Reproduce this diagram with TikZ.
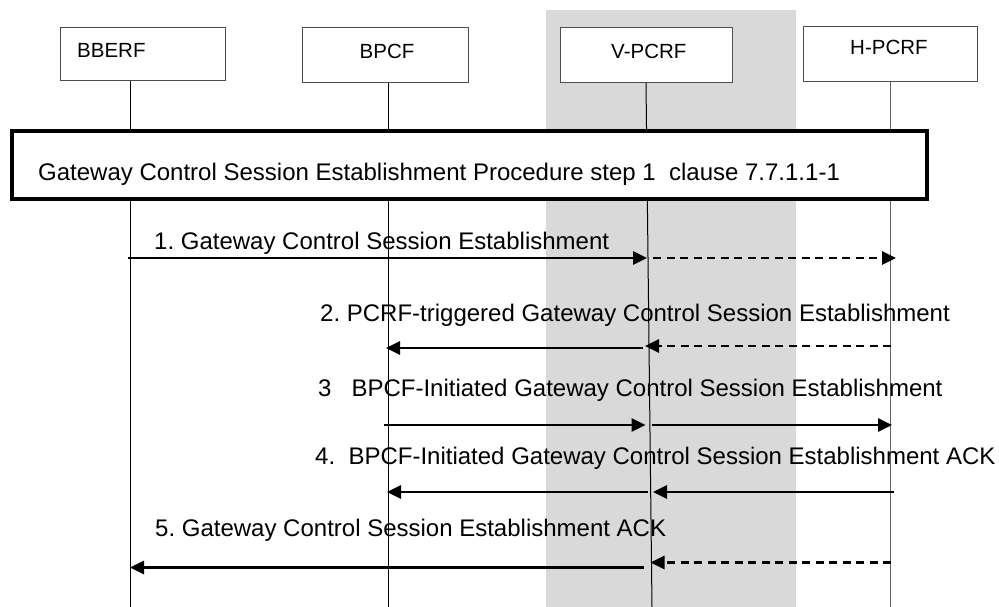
\documentclass[tikz,border=0pt]{standalone}
\usepackage{fontspec}
\setmainfont{Liberation Sans}
\usetikzlibrary{arrows.meta}
\frenchspacing
\begin{document}
\begin{tikzpicture}[x=1pt,y=-1pt,
  entity/.style={draw=black!70, line width=1pt, fill=white, inner sep=0pt},
  entlabel/.style={anchor=base west, inner sep=0pt, font=\fontsize{20.5}{24}\selectfont},
  msgtext/.style={anchor=base west, inner sep=0pt, font=\fontsize{24}{28}\selectfont},
  lifeline/.style={line width=1pt, draw=black},
  msg/.style={line width=2.8pt, -{Triangle[length=14pt,width=13pt]}},
  dmsg/.style={msg, dash pattern=on 8pt off 5.5pt},
  procbox/.style={draw=black, line width=4pt, fill=white, inner sep=0pt}]
\useasboundingbox (0,0) rectangle (999,607);
% visited network shading
\fill[black!15] (546,10) rectangle (796,607);

% lifeline end points
\coordinate (bbTop) at (130,81);   \coordinate (bbBot) at (130,607);
\coordinate (bpTop) at (388,83);   \coordinate (bpBot) at (388,607);
\coordinate (vpTop) at (646,83);   \coordinate (vpBot) at (652,607);
\coordinate (hpTop) at (890,82);   \coordinate (hpBot) at (890,607);
\draw[lifeline] (bbTop) -- (bbBot);
\draw[lifeline] (bpTop) -- (bpBot);
\draw[lifeline] (vpTop) -- (vpBot);
\draw[lifeline, draw=black!60] (hpTop) -- (hpBot);

% entity boxes
\node[entity, minimum width=165pt, minimum height=53pt] (bberf) at (142.5,54.5) {};
\node[entity, minimum width=166pt, minimum height=55pt] (bpcf) at (385,55.5) {};
\node[entity, minimum width=172pt, minimum height=55pt] (vpcrf) at (646,55.5) {};
\node[entity, minimum width=174pt, minimum height=55pt] (hpcrf) at (890,54.5) {};
\node[entlabel] (lbberf) at (77,58) {BBERF};
\node[entlabel] (lbpcf) at (359.5,59) {BPCF};
\node[entlabel] (lvpcrf) at (611,59) {V-PCRF};
\node[entlabel] (lhpcrf) at (850,55) {H-PCRF};

% procedure box
\node[procbox, minimum width=915pt, minimum height=68pt] (proc) at (469.5,165) {};
\node[msgtext] (proctext) at (38,180) {Gateway Control Session Establishment Procedure step 1\ \ clause 7.7.1.1-1};

% message 1
\coordinate (m1a) at (128,258); \coordinate (m1b) at (647,258);
\coordinate (m1c) at (653,258); \coordinate (m1d) at (896,258);
\node[msgtext] (t1) at (154,249) {1. Gateway Control Session Establishment};
\draw[msg] (m1a) -- (m1b);
\draw[dmsg] (m1c) -- (m1d);

% message 2
\coordinate (m2a) at (891,346); \coordinate (m2b) at (645,346);
\coordinate (m2c) at (643,348); \coordinate (m2d) at (386,348);
\node[msgtext] (t2) at (320,321) {2. PCRF-triggered Gateway Control Session Establishment};
\draw[dmsg] (m2a) -- (m2b);
\draw[msg] (m2c) -- (m2d);

% message 3
\coordinate (m3a) at (384,425); \coordinate (m3b) at (645.5,425);
\coordinate (m3c) at (651.5,425); \coordinate (m3d) at (892,425);
\node[msgtext] (t3) at (318,396) {3\ \ \ BPCF-Initiated Gateway Control Session Establishment};
\draw[msg] (m3a) -- (m3b);
\draw[msg] (m3c) -- (m3d);

% message 4
\coordinate (m4a) at (894,492); \coordinate (m4b) at (653,492);
\coordinate (m4c) at (648,492); \coordinate (m4d) at (387,492);
\node[msgtext] (t4) at (315,464) {4.\ \ BPCF-Initiated Gateway Control Session Establishment ACK};
\draw[msg] (m4a) -- (m4b);
\draw[msg] (m4c) -- (m4d);

% message 5
\coordinate (m5a) at (891,562.5); \coordinate (m5b) at (650.5,562.5);
\coordinate (m5c) at (644,567.5); \coordinate (m5d) at (130,567.5);
\node[msgtext] (t5) at (155,536.5) {5. Gateway Control Session Establishment ACK};
\draw[dmsg] (m5a) -- (m5b);
\draw[msg] (m5c) -- (m5d);
\end{tikzpicture}
\end{document}
